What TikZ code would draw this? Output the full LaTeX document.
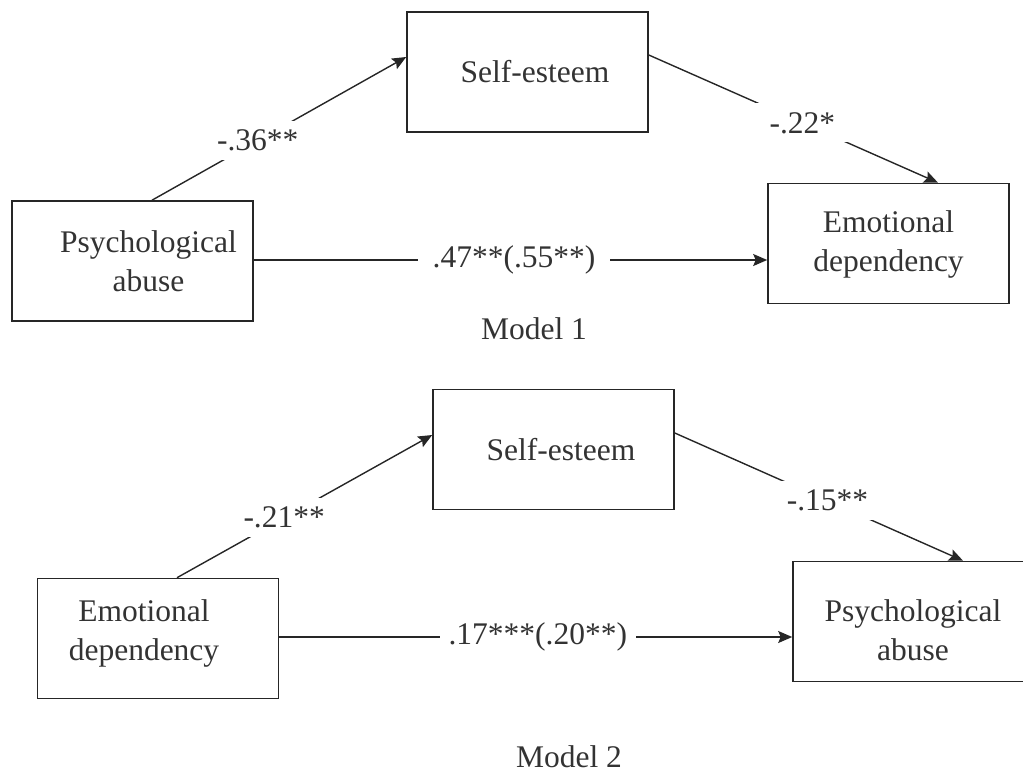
\documentclass[tikz,border=0pt]{standalone}
\usepackage{fontspec}
\setmainfont{Liberation Serif}
\usetikzlibrary{arrows.meta}
\newcommand{\fs}{\fontsize{31.5pt}{39pt}\selectfont}
\tikzset{
  box/.style={draw=black!85, line width=1.6pt, minimum width=241pt, minimum height=120pt, inner sep=0pt},
  txt/.style={font=\fs, align=center, text=black!80, inner sep=0pt},
  lbl/.style={font=\fs, fill=white, inner xsep=11pt, inner ysep=9pt, text=black!80},
  conn/.style={draw=black!85, line width=1.4pt, -{Stealth[length=14pt,width=12pt,inset=2.5pt]}},
}
\begin{document}
\begin{tikzpicture}[x=1pt, y=-1pt]
\useasboundingbox (0,0) rectangle (1023,772);
\clip (0,0) rectangle (1023,772);
% Model 1
\node[box] (pa1) at (132.5,261) {};
\node[txt] (pa1t) at (148.5,261) {Psychological\\abuse};
\node[box] (se1) at (527.5,72) {};
\node[txt] (se1t) at (535,72) {Self-esteem};
\node[box] (ed1) at (888.5,243.5) {};
\node[txt] (ed1t) at (888.5,244) {Emotional\\dependency};
\draw[conn] ([xshift=19.5pt]pa1.north) -- node[lbl, pos=0.416] (l1) {-.36**} ([yshift=15pt]se1.west);
\draw[conn] ([yshift=17pt]se1.east) -- node[lbl, pos=0.531, inner xsep=16pt] (l2) {-.22*} ([xshift=49.5pt]ed1.north);
\draw[conn] ([yshift=1pt]pa1.east) -- node[lbl, pos=0.507, inner xsep=15pt] (l3) {.47**(.55**)} ([yshift=-16.5pt]ed1.west);
\node[txt, anchor=base] (m1) at (534,339) {Model 1};
% Model 2
\node[box] (ed2) at (158,638.5) {};
\node[txt] (ed2t) at (144,633) {Emotional\\dependency};
\node[box] (se2) at (553.5,449.5) {};
\node[txt] (se2t) at (561,450) {Self-esteem};
\node[box] (pa2) at (913.5,621.5) {};
\node[txt] (pa2t) at (913,630) {Psychological\\abuse};
\draw[conn] ([xshift=19pt]ed2.north) -- node[lbl, pos=0.42] (l4) {-.21**} ([yshift=14.5pt]se2.west);
\draw[conn] ([yshift=16.5pt]se2.east) -- node[lbl, pos=0.53, inner xsep=16pt] (l5) {-.15**} ([xshift=49.5pt]pa2.north);
\draw[conn] ([yshift=1.5pt]ed2.east) -- node[lbl, pos=0.504, inner xsep=9pt] (l6) {.17***(.20**)} ([yshift=-15.5pt]pa2.west);
\node[txt, anchor=base] (m2) at (569,767) {Model 2};
\end{tikzpicture}
\end{document}
